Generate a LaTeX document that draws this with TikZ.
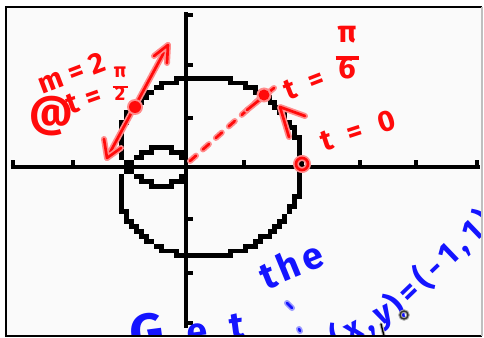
\documentclass[tikz,border=0pt]{standalone}
\usepackage{fontspec}
\setsansfont{Fira Sans}
\usetikzlibrary{decorations.text}
\definecolor{inkred}{HTML}{FF0A0A}
\definecolor{halored}{HTML}{FF8C8C}
\definecolor{inkblue}{HTML}{1414FF}
\definecolor{haloblue}{HTML}{9A9AFF}
\definecolor{paper}{HTML}{FAFAFA}
\newcommand\fsR{\sffamily\bfseries\fontsize{22pt}{22pt}\selectfont}
\newcommand\fsG{\sffamily\bfseries\fontsize{40pt}{40pt}\selectfont}
\newcommand\fsB{\sffamily\bfseries\fontsize{28pt}{28pt}\selectfont}
\newcommand\fsP{\sffamily\bfseries\fontsize{24pt}{24pt}\selectfont}
\newcommand\hfr[2]{{\renewcommand\arraystretch{0.8}\begin{tabular}{@{}c@{}}#1\\[-0.25em]\rule{0.75em}{0.12em}\\[-0.3em]#2\end{tabular}}}
\tikzset{
  redline/.style={draw=inkred, line width=2pt, line cap=round, line join=round,
    preaction={draw=halored, line width=4.5pt, line cap=round, line join=round}},
  blueline/.style={draw=inkblue, line width=2pt, line cap=round, line join=round,
    preaction={draw=haloblue, line width=4.5pt, line cap=round, line join=round}},
  reddash/.style={draw=inkred, line width=2pt, line cap=round, dash pattern=on 6pt off 7pt,
    preaction={draw=halored, line width=4.5pt, line cap=round, dash pattern=on 6pt off 7pt}},
  axisline/.style={draw=black, line width=3.7pt},
  pix/.style={fill=black},
  redwrite/.style={decorate, decoration={text along path, text color=inkred, text align=fit to path, text={#1}}},
  bluewrite/.style={decorate, decoration={text along path, text color=inkblue, text align=fit to path, text={#1}}},
  rednode/.style={text=inkred, inner sep=0pt},
}
\begin{document}
\begin{tikzpicture}[x=0.75pt,y=-0.75pt]
\useasboundingbox (0,0) rectangle (484,338);
\fill[white] (0,0) rectangle (484,338);
\fill[paper] (6,7) rectangle (482,336);
% calculator axes
\coordinate (O) at (186,167);
\draw[axisline] (10.5,167) -- (479.5,167);
\draw[axisline] (186,12.5) -- (186,327.5);
\foreach \tx in {13,73,128,244,302,360,416,477}
  \fill[pix] (\tx-2.47,164.6) rectangle ++(4.94,-4.94);
\foreach \ty in {15,65,118,219,273,323}
  \fill[pix] (188.4,\ty-2.47) rectangle ++(4.94,4.94);
% the curve x = cos t + cos 2t, y = sin t + sin 2t on the calculator pixel grid
\foreach \t in {0,0.4,...,360}{
  \pgfmathsetmacro\px{186+4.94*round(58*(cos(\t)+cos(2*\t))/4.94)}
  \pgfmathsetmacro\py{167-4.94*round(51*(sin(\t)+sin(2*\t))/4.94)}
  \fill[pix] (\px-2.47,\py-2.47) rectangle ++(4.94,4.94);
}
\begin{scope}
\clip (6,7) rectangle (482,336);
% red annotations
\coordinate (tA) at (107,158);
\coordinate (tB) at (168,45);
\coordinate (tA1) at (104,139);
\coordinate (tA2) at (121,148);
\coordinate (tB1) at (154,56);
\coordinate (tB2) at (167,63);
\coordinate (P) at (135,107);
\coordinate (Q) at (264,95);
\coordinate (R) at (302,164);
\coordinate (dS) at (190,161);
\coordinate (q1) at (247,110);
\coordinate (q2) at (274,88);
\coordinate (c1) at (305,116);
\coordinate (c2) at (280,107);
\coordinate (c3) at (289,137);
\draw[redline] (tA) -- (tB);
\draw[redline] (tA1) -- (tA) -- (tA2);
\draw[redline] (tB1) -- (tB) -- (tB2);
\fill[halored] (P) circle[radius=8];
\fill[inkred] (P) circle[radius=6];
\draw[reddash] (dS) -- (Q);
\draw[redline] (q1) -- (q2);
\fill[halored] (Q) circle[radius=7.5];
\fill[inkred] (Q) circle[radius=5.5];
\draw[redline] (c1) -- (c2) -- (c3);
\draw[redline] (R) circle[radius=6];
% red writing
\coordinate (m2a) at (42,95);
\coordinate (m2b) at (108,70);
\path[redwrite={|\fsR|m=2}] (m2a) -- (m2b);
\node[rednode, font=\sffamily\bfseries\fontsize{32pt}{32pt}\selectfont] (at) at (51,116) {@};
\coordinate (t2a) at (70,115);
\coordinate (t2b) at (104,103);
\path[redwrite={|\fsR|t=}] (t2a) -- (t2b);
\node[rednode, font=\sffamily\bfseries\fontsize{15pt}{15pt}\selectfont] (pi2) at (120,86) {\hfr{π}{2}};
\coordinate (t6a) at (288,101);
\coordinate (t6b) at (327,86);
\path[redwrite={|\fsR|t=}] (t6a) -- (t6b);
\node[rednode, font=\sffamily\bfseries\fontsize{23pt}{23pt}\selectfont] (pi6) at (347,56) {\hfr{π}{6}};
\coordinate (t0a) at (324,152);
\coordinate (t0b) at (398,128);
\path[redwrite={|\fsR|t=0}] (t0a) -- (t0b);
% blue writing
\coordinate (geta) at (132,353);
\coordinate (getb) at (246,338);
\path[bluewrite={|\fsG|G|\fsB|et}] (geta) -- (getb);
\coordinate (thea) at (266,290);
\coordinate (theb) at (327,265);
\path[bluewrite={|\fsB|the}] (thea) -- (theb);
\coordinate (d1) at (287,303);
\coordinate (d2) at (292,308);
\coordinate (d3) at (299,329);
\coordinate (d4) at (300,331);
\draw[blueline] (d1) -- (d2);
\draw[blueline] (d3) -- (d4);
\coordinate (xya) at (337,350);
\coordinate (xyb) at (398,318);
\coordinate (xyc) at (496,224);
\path[bluewrite={|\fsP|(x,y)=(-1,1)}] (xya) -- (xyb) -- (xyc);
% cursor marks
\coordinate (cur) at (404,315);
\draw[gray!70, line width=2.5pt] (cur) circle[radius=4];
\draw[black!80, line width=1pt] (cur) circle[radius=4];
\coordinate (k1) at (381,324);
\coordinate (k2) at (384,336);
\draw[gray!60, line width=2.5pt, line cap=round] (k1) -- (k2);
\draw[black, line width=1pt, line cap=round] (k1) -- (k2);
\end{scope}
% frame
\draw[black, line width=2pt] (482,336) -- (6,336) -- (6,7) -- (482,7);
\draw[gray!50, line width=0.8pt] (482,7) -- (482,336);
\end{tikzpicture}
\end{document}
